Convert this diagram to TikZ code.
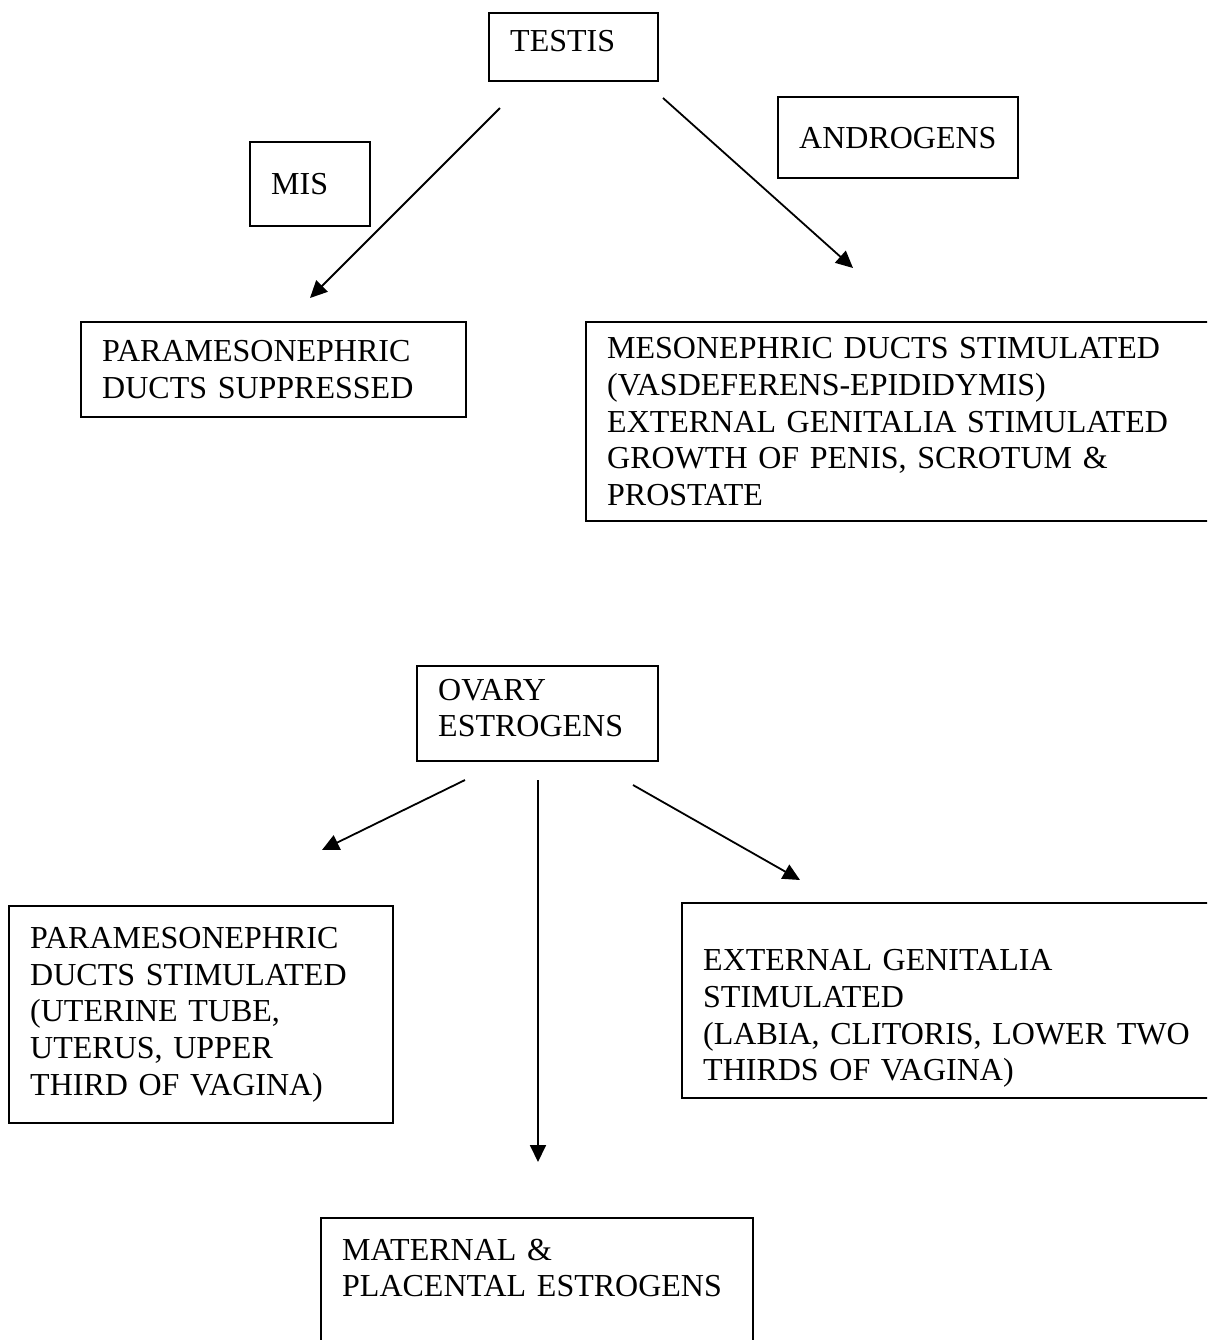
\documentclass[tikz,border=0pt]{standalone}
\usepackage{fontspec}
\setmainfont{Liberation Serif}
\usetikzlibrary{arrows.meta, positioning}

\begin{document}
\begin{tikzpicture}[x=0.5pt, y=-0.5pt,
  every node/.style={font=\fontsize{16pt}{18.3pt}\selectfont},
  box/.style={draw, line width=1.2pt, anchor=north west, align=left,
              inner xsep=10.5pt, inner ysep=2pt},
  flow/.style={-{Triangle[length=8.5pt, width=8pt]}, line width=0.9pt}]
  \useasboundingbox (0,0) rectangle (1207,1340);
  \clip (0,0) rectangle (1207,1340);
  % male side
  \node[box, text width=63.5pt, minimum height=34pt] (testis) at (488,12)
    {TESTIS\rule[-6pt]{0pt}{6pt}};
  \node[box, text width=99pt, minimum height=40.5pt] (androgens) at (777,96) {ANDROGENS};
  \node[box, text width=39pt, minimum height=42pt] (mis) at (249,141) {MIS};
  \node[box, text width=171.5pt, minimum height=47.5pt] (suppressed) at (80,321)
    {PARAMESONEPHRIC\\DUCTS SUPPRESSED};
  \node[box, text width=306.5pt, minimum height=99.5pt] (mesonephric) at (585,321)
    {MESONEPHRIC DUCTS STIMULATED\\(VASDEFERENS-EPIDIDYMIS)\\EXTERNAL GENITALIA STIMULATED\\GROWTH OF PENIS, SCROTUM \&\\PROSTATE};
  % female side
  \node[box, text width=99.5pt, minimum height=47.5pt] (ovary) at (416,665)
    {OVARY\\ESTROGENS\rule[-6pt]{0pt}{6pt}};
  \node[box, text width=171pt, minimum height=108.5pt] (stimulated) at (8,905)
    {PARAMESONEPHRIC\\DUCTS STIMULATED\\(UTERINE TUBE,\\UTERUS, UPPER\\THIRD OF VAGINA)};
  \node[box, text width=258.5pt, minimum height=97.5pt] (external) at (681,902)
    {\rule{0pt}{28.5pt}EXTERNAL GENITALIA\\STIMULATED\\(LABIA, CLITORIS, LOWER TWO\\THIRDS OF VAGINA)};
  \node[box, text width=195pt, minimum height=68pt] (maternal) at (320,1217)
    {MATERNAL \&\\PLACENTAL ESTROGENS\\\mbox{}};
  % arrow ends
  \coordinate (t1) at (500,108);   \coordinate (t1e) at (310,298);
  \coordinate (t2) at (663,98);    \coordinate (t2e) at (853,268);
  \coordinate (o1) at (465,780);   \coordinate (o1e) at (322,850);
  \coordinate (o2) at (538,780);   \coordinate (o2e) at (538,1162);
  \coordinate (o3) at (633,785);   \coordinate (o3e) at (800,880);
  % arrows
  \draw[flow] (t1) -- (t1e);
  \draw[flow] (t2) -- (t2e);
  \draw[flow] (o1) -- (o1e);
  \draw[flow] (o2) -- (o2e);
  \draw[flow] (o3) -- (o3e);
\end{tikzpicture}
\end{document}
